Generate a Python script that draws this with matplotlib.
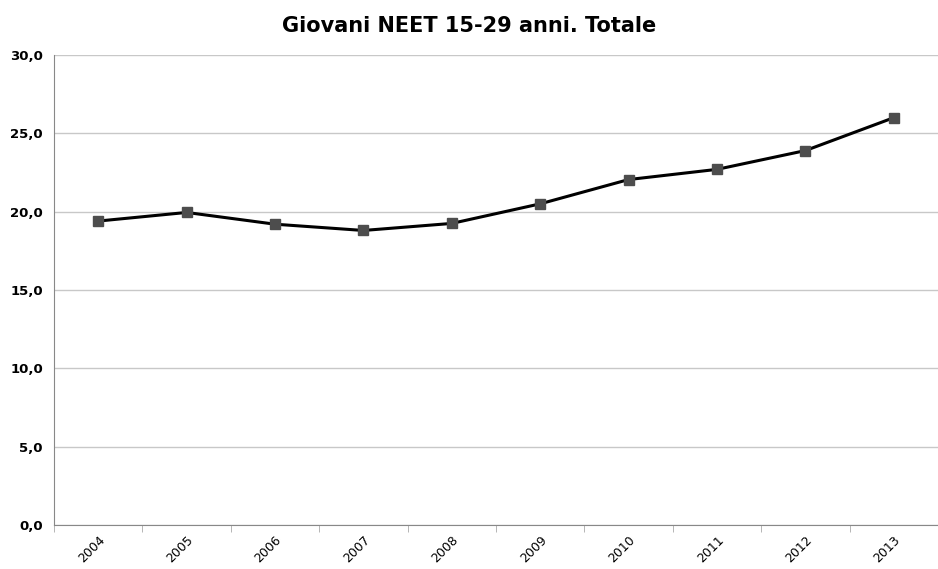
import matplotlib.pyplot as plt
import matplotlib.ticker as mticker
import numpy as np

# Data
anni = ['2004', '2005', '2006', '2007', '2008', '2009', '2010', '2011', '2012', '2013']
neet = [19.4, 19.95, 19.2, 18.8, 19.25, 20.5, 22.05, 22.7, 23.9, 26.0]

fig = plt.figure(figsize=(9.38, 5.69), dpi=100)
ax = fig.add_axes([54/938, 1-525/569, 884/938, 470/569])

x = np.arange(len(anni))
ax.plot(x, neet, color='black', lw=2.2, marker='s', markersize=6.5,
        markerfacecolor='#4d4d4d', markeredgecolor='#4d4d4d', zorder=3)

ax.set_xlim(-0.5, len(anni) - 0.5)
ax.set_ylim(0, 30)
ax.set_yticks(np.arange(0, 31, 5))
ax.yaxis.set_major_formatter(mticker.FuncFormatter(lambda v, p: f'{v:.1f}'.replace('.', ',')))
ax.grid(axis='y', color='#c8c8c8', lw=1)
ax.set_axisbelow(True)

ax.set_xticks(x)
ax.set_xticklabels(anni, rotation=45, ha='right', rotation_mode='anchor', fontsize=9)
ax.set_xticks(np.arange(-0.5, len(anni)), minor=True)
ax.tick_params(axis='x', which='major', length=0, pad=6)
ax.tick_params(axis='x', which='minor', length=5, color='#aaaaaa')
ax.tick_params(axis='y', length=0, labelsize=9.5, pad=8)
for lbl in ax.get_yticklabels():
    lbl.set_fontweight('bold')

for s in ['top', 'right']:
    ax.spines[s].set_visible(False)
for s in ['left', 'bottom']:
    ax.spines[s].set_color('#888888')

fig.text(0.5, 0.955, 'Giovani NEET 15-29 anni. Totale', ha='center', va='center',
         fontsize=15, fontweight='bold')

fig.savefig('out.png', dpi=100)
